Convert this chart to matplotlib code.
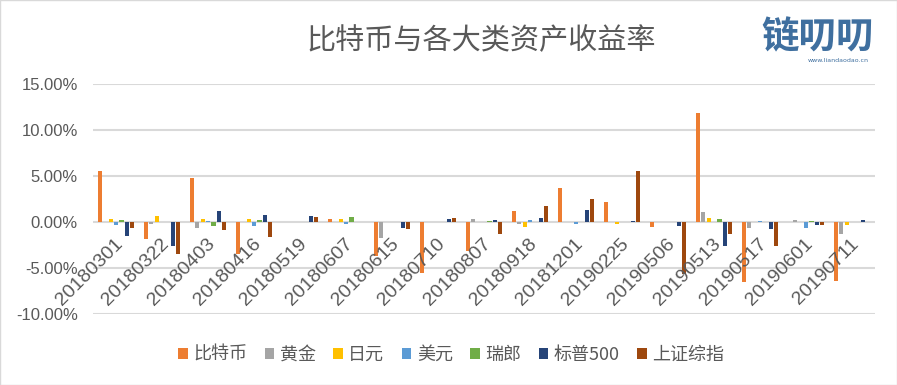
import matplotlib
matplotlib.use("Agg")
import matplotlib.pyplot as plt
import numpy as np
from matplotlib.patches import Rectangle
from matplotlib.ticker import FuncFormatter

plt.rcParams['font.family'] = ['Noto Sans CJK SC', 'DejaVu Sans']

categories = ['20180301', '20180322', '20180403', '20180416', '20180519', '20180607',
              '20180615', '20180710', '20180807', '20180918', '20181201', '20190225',
              '20190506', '20190513', '20190517', '20190601', '20190711']
series_names = ['比特币', '黄金', '日元', '美元', '瑞郎', '标普500', '上证综指']
btc  = [5.5, -1.9, 4.8, -3.5, 0.0, 0.3, -3.7, -5.5, -3.2, 1.2, 3.7, 2.2, -0.5, 11.9, -6.5, 0.0, -6.4]
gold = [0.0, -0.25, -0.65, 0.0, 0.0, 0.0, -1.75, 0.0, 0.33, -0.2, 0.0, 0.0, 0.0, 1.1, -0.6, 0.22, -1.27]
jpy  = [0.33, 0.65, 0.33, 0.33, 0.0, 0.33, 0.0, 0.0, 0.0, -0.5, 0.0, -0.2, 0.0, 0.43, 0.0, 0.0, -0.29]
usd  = [-0.35, 0.0, 0.1, -0.4, 0.0, -0.2, 0.0, 0.0, 0.0, 0.22, -0.25, 0.0, 0.0, 0.0, 0.1, -0.6, 0.0]
chf  = [0.22, 0.0, -0.4, 0.22, 0.0, 0.54, 0.0, 0.0, 0.1, 0.0, 0.0, 0.0, 0.0, 0.33, 0.0, 0.1, 0.0]
spx  = [-1.5, -2.6, 1.2, 0.76, 0.65, 0.0, -0.65, 0.33, 0.22, 0.43, 1.3, 0.1, -0.4, -2.57, -0.72, -0.29, 0.22]
shci = [-0.65, -3.5, -0.87, -1.63, 0.54, 0.0, -0.76, 0.43, -1.3, 1.74, 2.5, 5.54, -5.6, -1.27, -2.57, -0.29, 0.0]
colors = ['#ED7D31', '#A5A5A5', '#FFC000', '#5B9BD5', '#70AD47', '#264478', '#9E480E']
yticks = [-10, -5, 0, 5, 10, 15]

all_series = [btc, gold, jpy, usd, chf, spx, shci]

fig = plt.figure(figsize=(8.97, 3.85), dpi=100)
ax = fig.add_axes([0.1037, 0.1844, 0.8718, 0.5974])

x = np.arange(len(categories))
slot = 0.118
bw = 0.09
for k, (vals, name, c) in enumerate(zip(all_series, series_names, colors)):
    ax.bar(x + (k - 3) * slot, vals, width=bw, color=c, label=name, zorder=3)

ax.set_xlim(-0.5, len(categories) - 0.5)
ax.set_ylim(-10, 15)
ax.set_yticks(yticks)
ax.yaxis.set_major_formatter(FuncFormatter(lambda v, p: f'{v:.2f}%'))
ax.grid(axis='y', color='#D9D9D9', linewidth=1.5, zorder=0)
ax.set_axisbelow(True)
for s in ax.spines.values():
    s.set_visible(False)
ax.tick_params(axis='y', length=0, pad=11, labelsize=12, labelcolor='#595959')
for lab in ax.get_yticklabels():
    lab.set_family(['Liberation Sans'])
ax.set_xticks([])

for i, cat in enumerate(categories):
    ax.annotate(cat, xy=(i + 0.1, 0), xytext=(0, -14), textcoords='offset points',
                rotation=45, rotation_mode='anchor', ha='right', va='center',
                fontsize=14, color='#595959', family=['Liberation Sans'], zorder=4)

fig.text(0.536, 0.892, '比特币与各大类资产收益率', ha='center', va='center',
         fontsize=21, color='#595959')

leg = fig.legend(loc='center', bbox_to_anchor=(0.503, 0.078), ncol=7, frameon=False,
                 fontsize=13, handlelength=0.55, handleheight=0.55, handletextpad=0.3,
                 columnspacing=0.95, labelcolor='#595959')

# logo
fig.text(0.912, 0.905, '链叨叨', ha='center', va='center', fontsize=27,
         fontweight='bold', color='#3F6F9F')
fig.text(0.935, 0.842, 'www.liandaodao.cn', ha='center', va='center', fontsize=4.5,
         color='#3F6F9F', family=['DejaVu Sans'])

fig.patches.append(Rectangle((0.0005, 0.001), 0.999, 0.998, transform=fig.transFigure,
                             fill=False, edgecolor='#D9D9D9', linewidth=1))

fig.savefig('out.png', dpi=100)
